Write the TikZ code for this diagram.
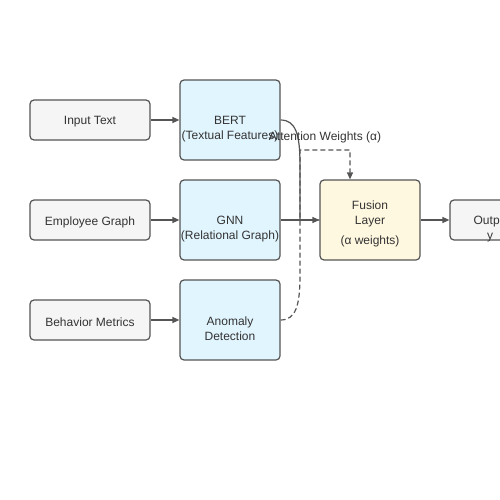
\documentclass[tikz,border=0pt]{standalone}
\usepackage{fontspec}
\setmainfont{Liberation Sans}
\usetikzlibrary{arrows.meta}
\definecolor{edge}{HTML}{555555}
\definecolor{txt}{HTML}{333333}
\definecolor{grayfill}{HTML}{F5F5F5}
\definecolor{bluefill}{HTML}{E1F5FE}
\definecolor{yellowfill}{HTML}{FFF8E1}
\tikzset{
  lbl/.style={text=txt, font=\fontsize{12}{15}\selectfont, inner sep=0pt, align=center},
  box/.style={draw=edge, line width=1.2pt, rounded corners=4pt, inner sep=0pt},
  inbox/.style={box, fill=grayfill, minimum width=120pt, minimum height=40pt},
  modbox/.style={box, fill=bluefill, minimum width=100pt, minimum height=80pt},
  fusebox/.style={box, fill=yellowfill, minimum width=100pt, minimum height=80pt},
  outbox/.style={box, fill=grayfill, minimum width=80pt, minimum height=40pt},
  one/.style={label={[lbl, yshift=-2pt]center:{#1}}},
  two/.style={label={[lbl, yshift=-9pt]center:{#1}}},
  conn/.style={draw=edge, line width=1.2pt, -{Triangle[length=7pt,width=6pt]}},
  plainconn/.style={draw=edge, line width=1.2pt}
}
\begin{document}
\begin{tikzpicture}[x=1pt,y=-1pt]
\useasboundingbox (0,0) rectangle (500,500);
\node[inbox, one={Input Text}] (inp) at (90,120) {};
\node[inbox, one={Employee Graph}] (emp) at (90,220) {};
\node[inbox, one={Behavior Metrics}] (beh) at (90,320) {};
\node[modbox, two={BERT\\(Textual Features)}] (bert) at (230,120) {};
\node[modbox, two={GNN\\(Relational Graph)}] (gnn) at (230,220) {};
\node[modbox, two={Anomaly\\Detection}] (ano) at (230,320) {};
\node[fusebox, label={[lbl, yshift=-4pt]center:{Fusion\\Layer\\[5pt](α weights)}}] (fus) at (370,220) {};
\node[outbox, two={Outpu\\y}] (out) at (490,220) {};
\coordinate (c1) at (300,165);
\coordinate (c2) at (300,275);
\coordinate (c3) at (300,150);
\coordinate (c4) at (350,150);
\draw[conn] (inp.east) -- (bert.west);
\draw[conn] (emp.east) -- (gnn.west);
\draw[conn] (beh.east) -- (ano.west);
\draw[conn] (gnn.east) -- (fus.west);
\draw[plainconn] (bert.east) .. controls (296,120) and (300,135) .. (c1) -- (c1 |- fus.west) -- (fus.west);
\draw[conn, dashed, dash pattern=on 5pt off 3pt] (ano.east) .. controls (296,320) and (300,305) .. (c2) -- (c3) -- (c4) -- (fus.north -| c4);
\draw[conn] (fus.east) -- (out.west);
\node[lbl] (att) at (325,137) {Attention Weights (α)};
\end{tikzpicture}
\end{document}
